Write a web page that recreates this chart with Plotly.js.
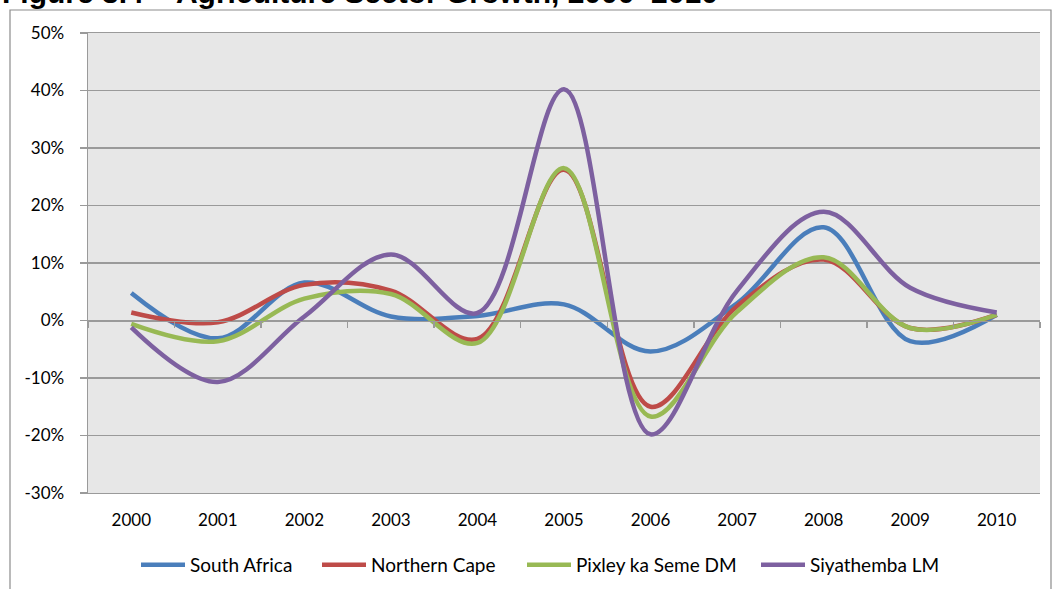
<!DOCTYPE html>
<html>
<head>
<meta charset="utf-8">
<script src="https://cdn.plot.ly/plotly-3.0.1.min.js"></script>
<style>html,body{margin:0;padding:0;background:#fff;}#chart{width:1052px;height:589px;}</style>
</head>
<body>
<div id="chart"></div>
<script>
const years = ["2000","2001","2002","2003","2004","2005","2006","2007","2008","2009","2010"];
const southAfrica = [4.8, -3.1, 6.6, 0.7, 0.8, 2.8, -5.4, 3.0, 16.2, -3.6, 1.0];
const northernCape = [1.4, -0.3, 6.2, 5.2, -3.2, 26.2, -15.0, 2.5, 10.6, -1.3, 1.0];
const pixley = [-0.6, -3.6, 3.8, 4.6, -3.9, 26.5, -16.7, 1.5, 11.0, -1.3, 1.0];
const siyathemba = [-1.2, -10.7, 0.7, 11.5, 1.3, 40.2, -19.8, 5.2, 18.9, 5.7, 1.4];
const seriesNames = ["South Africa", "Northern Cape", "Pixley ka Seme DM", "Siyathemba LM"];
const seriesColors = ["#4a7ebb", "#be4b48", "#98b954", "#7d60a0"];
const yTicks = [-30, -20, -10, 0, 10, 20, 30, 40, 50];

const idx = years.map((_, i) => i);
const bounds = years.map((_, i) => i - 0.5).concat([years.length - 0.5]);
const xRange = [-0.5, years.length - 0.5];
const yRange = [yTicks[0], yTicks[yTicks.length - 1]];
const grid = "#9a9a9a";
const legendIds = ["legend", "legend2", "legend3", "legend4"];
const legendLeftPx = [136, 317, 522, 756];

const data = [southAfrica, northernCape, pixley, siyathemba].map((vals, k) => ({
  type: "scatter", mode: "lines", x: idx, y: vals, name: seriesNames[k], legend: legendIds[k],
  line: {color: seriesColors[k], width: 4.5, shape: "spline", smoothing: 1}
}));
data.push({type: "scatter", mode: "none", x: idx, y: years.map(() => null), xaxis: "x2", showlegend: false, hoverinfo: "skip"});

const font = {family: "Lato, 'Open Sans', sans-serif", size: 17, color: "#000"};
const legendFont = {family: "Lato, 'Open Sans', sans-serif", size: 19, color: "#000"};

const layout = {
  width: 1052, height: 589,
  margin: {l: 88, r: 12, t: 33, b: 96, autoexpand: false},
  paper_bgcolor: "#fff", plot_bgcolor: "#e7e7e7",
  font: font,
  showlegend: true,
  xaxis: {range: xRange, tickvals: idx, ticktext: years, ticks: "", showgrid: false, zeroline: false,
          showline: true, linecolor: grid, linewidth: 1.4, mirror: true, ticklabelstandoff: 11, tickfont: font, fixedrange: true},
  xaxis2: {overlaying: "x", anchor: "free", side: "bottom", position: -yRange[0] / (yRange[1] - yRange[0]),
           range: xRange, tickvals: bounds, ticks: "outside", ticklen: 6, tickcolor: grid, tickwidth: 1.4,
           showticklabels: false, showgrid: false, zeroline: false, showline: true, linecolor: grid, linewidth: 1.4},
  yaxis: {range: yRange, tickvals: yTicks, ticktext: yTicks.map(v => v + "%"), ticks: "outside", ticklen: 7,
          tickcolor: grid, tickwidth: 1.4, showgrid: true, gridcolor: grid, gridwidth: 1.4, zeroline: false,
          showline: true, linecolor: grid, linewidth: 1.4, ticklabelstandoff: 12, tickfont: font},
  shapes: [{type: "rect", xref: "paper", yref: "paper", x0: (10 - 88) / 952, x1: (1051 - 88) / 952,
            y0: (493 - 620) / 460, y1: (493 - 10) / 460, line: {color: "#8c8c8c", width: 1.2}, fillcolor: "rgba(0,0,0,0)"}],
  annotations: [{text: "<b>Figure 3.4 \u2013 Agriculture Sector Growth, 2000\u20132010</b>", xref: "paper", yref: "paper",
                 x: -88 / 952, xanchor: "left", y: (493 - 11) / 460, yanchor: "bottom", showarrow: false,
                 font: {family: "'Liberation Sans', Arial, sans-serif", size: 30, color: "#000"}}]
};
legendIds.forEach((id, k) => {
  layout[id] = {orientation: "h", x: (legendLeftPx[k] - 88) / 952, xanchor: "left", y: (493 - 565) / 460, yanchor: "middle",
                font: legendFont, itemwidth: 44, bgcolor: "rgba(0,0,0,0)"};
});

Plotly.newPlot("chart", data, layout, {displayModeBar: false, staticPlot: true});
</script>
</body>
</html>
